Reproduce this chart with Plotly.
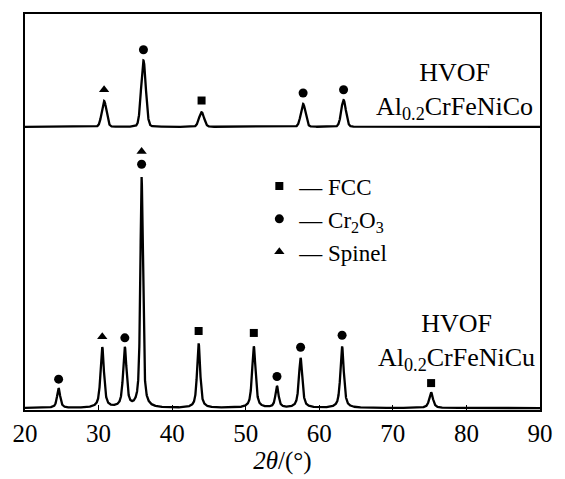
import numpy as np
import plotly.graph_objects as go

# ---- data ----
# Al0.2CrFeNiCu (lower pattern): peak positions (deg), heights (a.u.), widths (deg)
cu_pos = [24.57, 30.5, 33.57, 35.85, 43.6, 51.1, 54.25, 57.46, 63.1, 75.2]
cu_h = [20, 62, 61, 236, 66, 63, 22, 51, 63, 16]
cu_fwhm = [0.5, 0.55, 0.55, 0.4, 0.5, 0.55, 0.5, 0.55, 0.55, 0.6]
# Al0.2CrFeNiCo (upper pattern)
co_pos = [30.75, 36.1, 44.0, 57.8, 63.3]
co_h = [26.5, 68, 15, 23.5, 27.5]
co_fwhm = [0.75, 0.75, 0.8, 0.75, 0.75]

cu_offset = 2.0
co_offset = 290.3

# phase markers (x in deg, y in a.u.)
fcc_x = [43.6, 51.1, 75.2, 44.0]
fcc_y = [81, 79, 27.6, 317.3]
cr2o3_x = [24.57, 33.57, 35.85, 54.25, 57.46, 63.1, 36.1, 57.8, 63.3]
cr2o3_y = [31.6, 74, 252, 34.3, 64.3, 76.6, 369.3, 325, 328.3]
spinel_x = [30.5, 35.85, 30.75]
spinel_y = [75, 265, 328.3]

x_ticks = [20, 30, 40, 50, 60, 70, 80, 90]


def pattern(x, pos, h, w, eta, offset):
    y = np.full_like(x, offset)
    for p, a, f in zip(pos, h, w):
        g = np.exp(-4 * np.log(2) * ((x - p) / f) ** 2)
        l = 1.0 / (1.0 + 4 * ((x - p) / f) ** 2)
        y += a * (eta * l + (1 - eta) * g)
    return y


x = np.linspace(20, 90, 7001)
y_cu = pattern(x, cu_pos, cu_h, cu_fwhm, 0.7, cu_offset)
y_co = pattern(x, co_pos, co_h, co_fwhm, 0.1, co_offset)

FONT = "Liberation Serif"

fig = go.Figure()
fig.add_trace(go.Scatter(x=x, y=y_cu, mode="lines", line=dict(color="black", width=2.3),
                         showlegend=False, hoverinfo="skip"))
fig.add_trace(go.Scatter(x=x, y=y_co, mode="lines", line=dict(color="black", width=2.3),
                         showlegend=False, hoverinfo="skip"))
fig.add_trace(go.Scatter(x=fcc_x, y=fcc_y, mode="markers", name="— FCC",
                         marker=dict(symbol="square", size=8, color="black")))
fig.add_trace(go.Scatter(x=cr2o3_x, y=cr2o3_y, mode="markers", name="— Cr<sub>2</sub>O<sub>3</sub>",
                         marker=dict(symbol="circle", size=9, color="black")))
fig.add_trace(go.Scatter(x=spinel_x, y=spinel_y, mode="markers", name="— Spinel",
                         marker=dict(symbol="triangle-up", size=9, color="black")))

fig.add_annotation(x=78.4, y=418.3 - 91.5, xref="x", yref="y",
                   text="HVOF<br>Al<sub>0.2</sub>CrFeNiCo", showarrow=False,
                   font=dict(family=FONT, size=26, color="black"), align="center")
fig.add_annotation(x=78.7, y=418.3 - 349, xref="x", yref="y",
                   text="HVOF<br>Al<sub>0.2</sub>CrFeNiCu", showarrow=False,
                   font=dict(family=FONT, size=26, color="black"), align="center")

fig.update_layout(
    width=565, height=479,
    margin=dict(l=21, r=13, t=12, b=61),
    paper_bgcolor="white", plot_bgcolor="white",
    font=dict(family=FONT, size=24, color="black"),
    legend=dict(x=0.455, y=0.62, xanchor="left", yanchor="top",
                bgcolor="rgba(0,0,0,0)", borderwidth=0,
                font=dict(family=FONT, size=23, color="black"),
                tracegroupgap=0, itemwidth=30),
    xaxis=dict(range=[20, 90], tickvals=x_ticks, ticktext=[str(v) for v in x_ticks],
               ticks="inside", ticklen=5, tickwidth=1.2, tickcolor="black",
               showline=True, linecolor="black", linewidth=2, mirror=True,
               showgrid=False, zeroline=False,
               tickfont=dict(family=FONT, size=25, color="black"),
               title=dict(text="<i>2θ</i>/(°)", font=dict(family=FONT, size=25, color="black"),
                          standoff=2)),
    yaxis=dict(range=[0, 406], showticklabels=False, ticks="",
               showline=True, linecolor="black", linewidth=1.5, mirror=True,
               showgrid=False, zeroline=False),
)

fig.write_html("out.html")
